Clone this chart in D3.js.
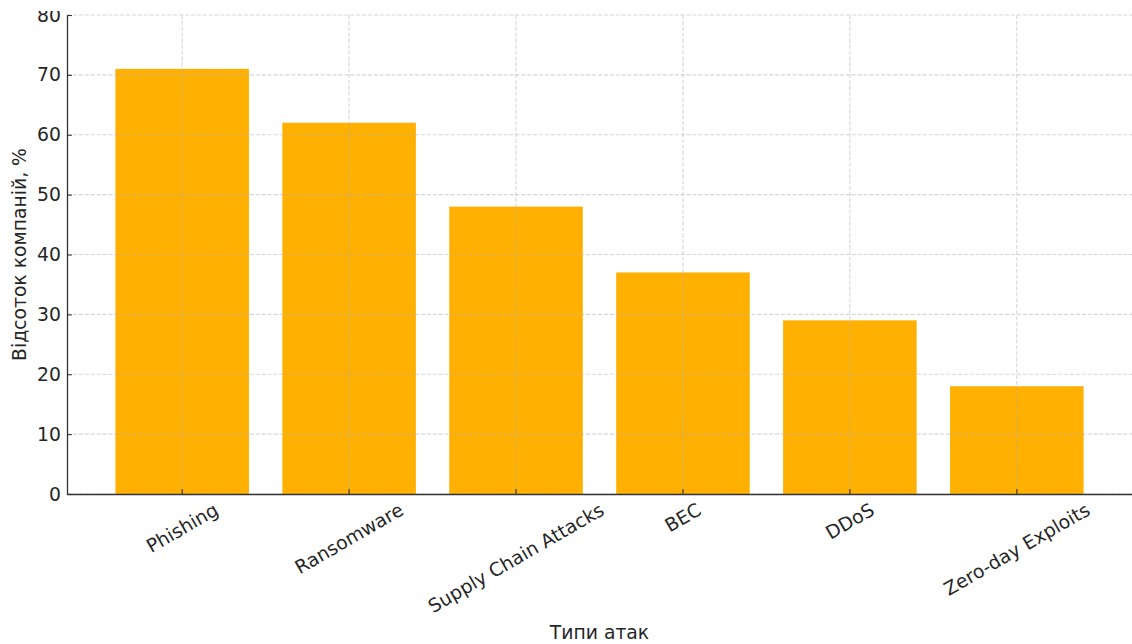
<!DOCTYPE html>
<html>
<head>
<meta charset="utf-8">
<script src="https://cdn.jsdelivr.net/npm/d3@7"></script>
<style>
  html, body { margin: 0; padding: 0; background: #fff; }
  svg { display: block; }
  text { font-family: "DejaVu Sans", sans-serif; fill: #262626; }
</style>
</head>
<body>
<svg id="chart" width="1132" height="644"></svg>
<script>
// Attack types and share of companies affected (%)
const categories = ["Phishing", "Ransomware", "Supply Chain Attacks", "BEC", "DDoS", "Zero-day Exploits"];
const values = [71, 62, 48, 37, 29, 18];
const yTicks = [0, 10, 20, 30, 40, 50, 60, 70, 80];
const xTitle = "Типи атак";
const yTitle = "Відсоток компаній, %";

const W = 1132, H = 644;
const plot = { left: 67, right: 1132, top: 15, bottom: 494 };
const fs = 18.8;
const ink = "#262626";
const barColor = "#ffb000";

const svg = d3.select("#chart");

// the figure's top edge trims everything above this line
svg.append("defs").append("clipPath").attr("id", "page")
  .append("rect").attr("x", 0).attr("y", 11).attr("width", W).attr("height", H - 11);
const root = svg.append("g").attr("clip-path", "url(#page)");

const x = d3.scaleBand()
  .domain(categories)
  .range([plot.left, plot.right])
  .paddingInner(0.2)
  .paddingOuter(0.29);

const y = d3.scaleLinear().domain([0, 80]).range([plot.bottom, plot.top]);

// bars
root.append("g").selectAll("rect")
  .data(categories)
  .join("rect")
  .attr("x", d => x(d))
  .attr("width", x.bandwidth())
  .attr("y", (d, i) => y(values[i]))
  .attr("height", (d, i) => y(0) - y(values[i]))
  .attr("fill", barColor);

// dashed grid, drawn over the bars
const grid = root.append("g")
  .attr("stroke", "#b0b0b0")
  .attr("stroke-opacity", 0.5)
  .attr("stroke-width", 1.1)
  .attr("stroke-dasharray", "4.1,1.8");
grid.selectAll("line.h")
  .data(yTicks)
  .join("line").attr("class", "h")
  .attr("x1", plot.left).attr("x2", plot.right)
  .attr("y1", d => y(d)).attr("y2", d => y(d));
grid.selectAll("line.v")
  .data(categories)
  .join("line").attr("class", "v")
  .attr("x1", d => x(d) + x.bandwidth() / 2).attr("x2", d => x(d) + x.bandwidth() / 2)
  .attr("y1", plot.top).attr("y2", plot.bottom);

// y axis: ticks pointing inward
const yAxis = root.append("g")
  .attr("transform", `translate(${plot.left},0)`)
  .call(d3.axisLeft(y).tickValues(yTicks).tickSizeInner(-4.9).tickSizeOuter(0).tickPadding(6));
yAxis.select(".domain").attr("stroke", "#333").attr("stroke-width", 1.3);
yAxis.selectAll(".tick line").attr("stroke", "#333").attr("stroke-width", 1.1);
yAxis.selectAll(".tick text")
  .style("font-size", fs + "px").style("font-family", "DejaVu Sans").attr("fill", ink);

// x axis: ticks pointing inward, labels rotated 30°
const xAxis = root.append("g")
  .attr("transform", `translate(0,${plot.bottom})`)
  .call(d3.axisBottom(x).tickSizeInner(-4.9).tickSizeOuter(0));
xAxis.select(".domain").attr("stroke", "#333").attr("stroke-width", 1.3);
xAxis.selectAll(".tick line").attr("stroke", "#333").attr("stroke-width", 1.1);
xAxis.selectAll(".tick text").each(function () {
  const t = d3.select(this)
    .style("font-size", fs + "px").style("font-family", "DejaVu Sans").attr("fill", ink)
    .attr("text-anchor", "middle").attr("dominant-baseline", "central")
    .attr("dy", null).attr("y", 0).attr("x", 0);
  const L = this.getComputedTextLength();
  const h = 1.0 * fs;
  const boxH = L * Math.sin(Math.PI / 6) + h * Math.cos(Math.PI / 6);
  t.attr("transform", `translate(0,${6 + boxH / 2}) rotate(-30)`);
});

// axis titles
root.append("text")
  .attr("x", (plot.left + plot.right) / 2)
  .attr("y", 639)
  .attr("text-anchor", "middle")
  .style("font-size", fs + "px")
  .text(xTitle);

root.append("text")
  .attr("transform", `translate(26,${(plot.top + plot.bottom) / 2}) rotate(-90)`)
  .attr("text-anchor", "middle")
  .style("font-size", fs + "px")
  .text(yTitle);
</script>
</body>
</html>
